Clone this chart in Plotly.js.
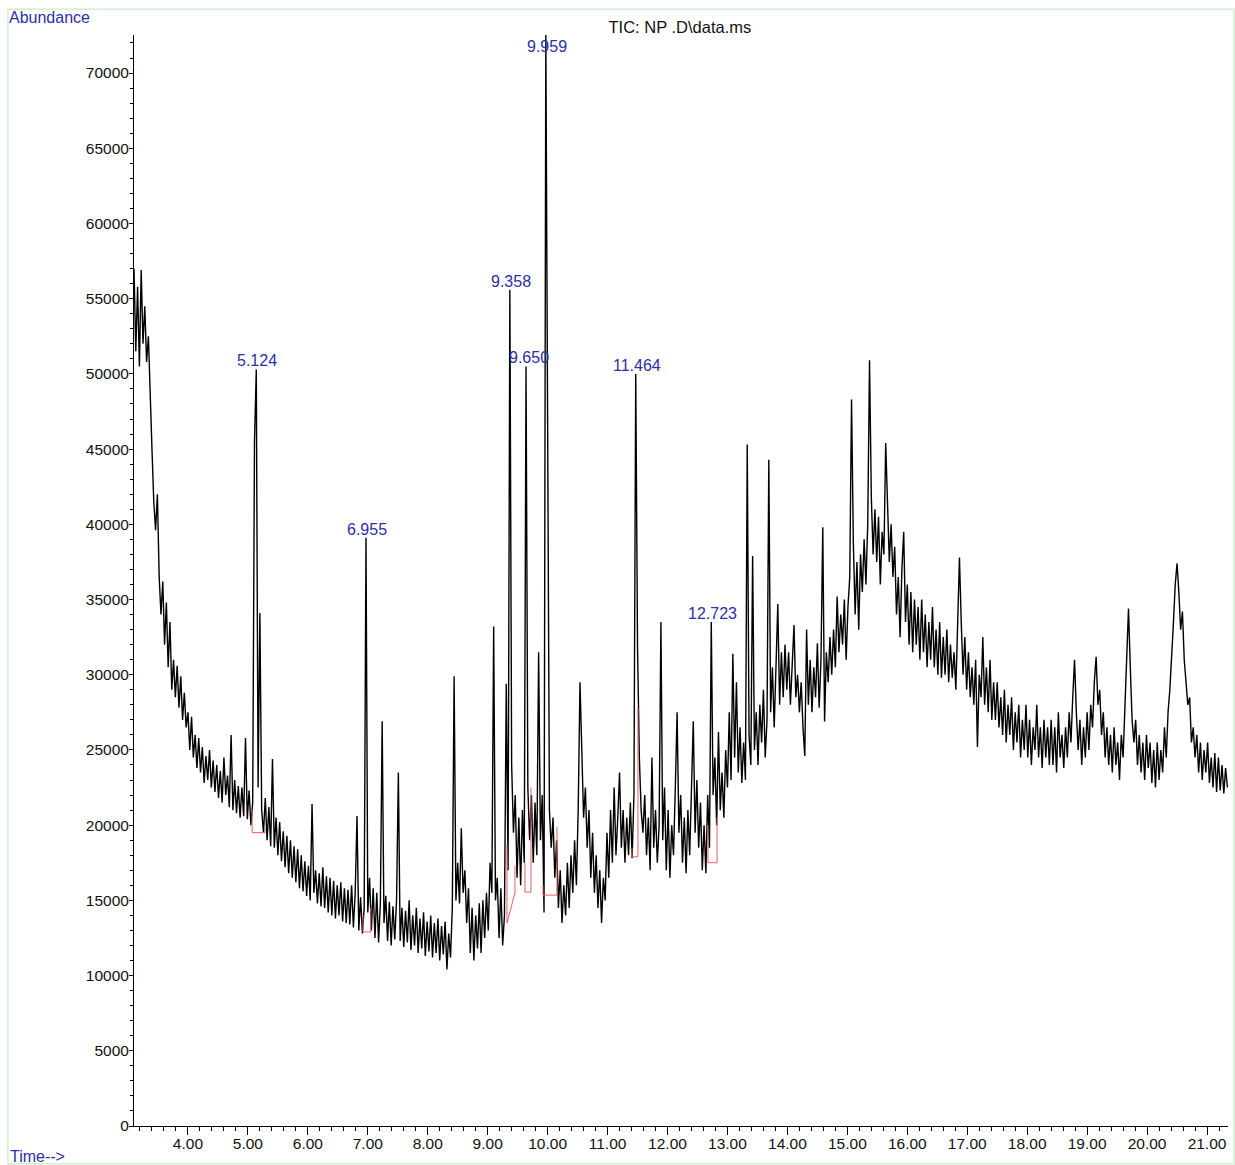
<!DOCTYPE html>
<html>
<head>
<meta charset="utf-8">
<script src="https://cdn.plot.ly/plotly-3.0.1.min.js"></script>
<style>
  html, body { margin: 0; padding: 0; background: #ffffff; }
  #chart { width: 1235px; height: 1165px; }
</style>
</head>
<body>
<div id="chart"></div>
<script>
// ---- TIC data, sampled every 0.03 min starting at 3.10 min ----
const scanStart = 3.10;
const scanStep = 0.03;

// 3.10 - 3.97 min
const tic_0310 = [57000,51500,55800,50500,56900,52000,54500,50800,52500,48000,
                  45000,41500,39600,42000,36500,34000,36200,32000,34800,30500,
                  33500,29000,31000,28500,30600,27800,29900,27000,28800,26500];
// 4.00 - 4.87 min
const tic_0400 = [27500,25000,27200,24500,26000,23800,25800,23500,25200,22800,
                  24600,23000,25000,22500,24300,22200,24000,21800,23600,21500,
                  24500,22000,23300,21200,26000,21000,23000,20800,22600,20500];
// 4.90 - 5.77 min
const tic_0490 = [22500,20600,25800,20400,22300,20000,21500,45500,50300,22500,
                  34100,21000,19500,21800,19000,21200,18600,24400,18500,20500,
                  18000,20200,17600,19600,17200,19300,16800,19000,16500,18600];
// 5.80 - 6.67 min
const tic_0580 = [16200,18400,15800,18000,15600,17600,15300,17300,15000,21400,
                  15500,17000,14800,16800,14600,17200,14500,16600,14200,16500,
                  14000,16300,13800,16000,14000,16200,13600,15800,13500,15700];
// 6.70 - 7.57 min
const tic_0670 = [13400,16000,13200,15500,20600,13000,15200,12800,14500,39100,
                  14200,16500,13000,15800,12500,15500,12200,14800,26900,13500,
                  15300,12300,14900,12000,14600,12400,15000,23500,12300,14500];
// 7.60 - 8.47 min
const tic_0760 = [11900,14300,12200,15000,11700,14000,12000,14500,11500,13800,
                  11800,14200,11300,13600,11600,14000,11200,13500,11500,13800,
                  11000,13300,11400,13600,10400,12800,11200,14500,29900,15000];
// 8.50 - 9.37 min
const tic_0850 = [17500,14800,19800,15500,17000,13500,15800,11500,14500,11000,
                  14000,11800,14800,11500,15000,12500,15500,13000,17500,15500,
                  33200,15000,16500,12500,15800,12000,14000,29400,17000,55600];
// 9.40 - 10.27 min
const tic_0940 = [24000,19500,22000,16500,20500,16000,21000,17500,50500,22500,
                  19000,22000,17500,21500,18000,31500,19000,22000,14200,72600,
                  43000,21000,18500,20500,16500,19000,14500,17000,13500,16000];
// 10.30 - 11.17 min
const tic_1030 = [14000,17500,14500,18000,15500,19000,16000,21000,29500,24000,
                  20500,22500,18500,21000,16500,19500,15500,18000,14500,17000,
                  13500,16500,15000,19500,16500,21000,17500,22500,18000,20500];
// 11.20 - 12.07 min
const tic_1120 = [23500,18500,21000,17500,20500,18000,21500,17800,22000,50000,
                  31800,24500,21000,19500,22000,18000,20500,17000,24500,18500,
                  21000,17500,20000,33500,19000,22500,17000,21000,16500,20000];
// 12.10 - 12.97 min
const tic_1210 = [18000,22500,27500,19500,22000,17500,20500,16800,21000,18000,
                  22500,26900,19500,23000,18500,21500,17000,20000,16800,22000,
                  18500,33500,22000,24500,20000,26200,21000,23500,20500,25000];
// 13.00 - 13.87 min
const tic_1300 = [22500,27500,23000,31400,24500,29500,23500,26500,22800,25500,
                  23000,45300,26000,24000,37900,25000,27500,24000,28000,25500,
                  29000,24500,27000,44300,27500,30500,26500,31000,34700,28000];
// 13.90 - 14.77 min
const tic_1390 = [31500,28500,32000,29000,31500,28000,30500,33300,28500,30000,
                  27500,29500,26500,24600,33000,28000,31000,27500,30500,28500,
                  32100,27800,31000,39800,26900,31500,29500,32500,30000,33000];
// 14.80 - 15.67 min
const tic_1480 = [30500,35200,31500,34000,32000,35000,31000,34500,36500,48300,
                  38800,34000,37500,33000,38000,35500,39000,36000,40000,50900,
                  41800,38000,41000,37500,40500,36000,39500,38000,45400,41400];
// 15.70 - 16.57 min
const tic_1570 = [37500,40000,36500,38500,34000,36500,32500,37000,39500,33500,
                  36000,32000,35500,31500,35000,32000,34500,31000,35000,31500,
                  34000,30500,33500,31000,34500,30500,33000,30000,33500,29800];
// 16.60 - 17.47 min
const tic_1660 = [32500,30000,33000,29500,32000,29800,31500,29000,33000,37800,
                  33500,30000,32500,29000,31500,28500,30500,28000,31000,25200,
                  30000,28500,32500,28000,30500,27500,31000,27000,29500,27000];
// 17.50 - 18.37 min
const tic_1750 = [29500,26500,28500,26000,29000,25500,28000,26000,28500,25000,
                  27500,25500,28000,24500,27000,25000,28000,24500,27000,24000,
                  26500,25000,28000,24500,26500,23800,27000,24500,26500,24000];
// 18.40 - 19.27 min
const tic_1840 = [27000,24000,26500,23500,27500,24500,26000,23800,26500,24500,
                  27500,25500,28500,31000,27500,25000,27000,24000,26500,24500,
                  27500,25000,28000,26500,29500,31200,28000,29000,26000,27500];
// 19.30 - 20.17 min
const tic_1930 = [24500,26500,24000,26000,23500,26500,24000,25500,23000,26000,
                  24500,27500,31000,34400,30500,27000,25500,27000,24000,26000,
                  23500,25500,23000,26000,23800,25500,22800,25000,22500,25500];
// 20.20 - 21.34 min
const tic_2020 = [23000,25000,23500,26500,24500,27500,29000,31000,33500,36000,
                  37400,35500,33000,34200,31000,29500,28000,28500,25500,26500,
                  24500,26000,23500,25500,23000,25000,23500,25500,22800,24500,
                  22500,24800,22200,24500,22300,24000,22100,23800,22500];

// ---- labelled peaks (retention time, apex abundance) ----
const peakRT    = [5.124, 6.955, 9.358, 9.650, 9.959, 11.464, 12.723];
const peakApex  = [50300, 39100, 55600, 50500, 72600, 50000, 33500];

// ---- integration baselines (red) ----
const baseStart    = [5.070, 6.920, 9.322, 9.622, 9.923, 11.407, 12.675];
const baseEnd      = [5.285, 7.050, 9.455, 9.722, 10.156, 11.507, 12.826];
const baseLevelA   = [19500, 12900, 13500, 15550, 15350, 17900, 17500];
const baseLevelB   = [19500, 12900, 15500, 15550, 15350, 17900, 17500];
const startSignal  = [21000, 14000, 18700, 17500, 16000, 18500, 20000];
const endSignal    = [19800, 14500, 17300, 22500, 19900, 27800, 20500];

// ---- axes ----
const xRange = [3.10, 21.35];
const yRange = [0, 72530];

const tic = [].concat(tic_0310, tic_0400, tic_0490, tic_0580, tic_0670, tic_0760,
  tic_0850, tic_0940, tic_1030, tic_1120, tic_1210, tic_1300, tic_1390, tic_1480,
  tic_1570, tic_1660, tic_1750, tic_1840, tic_1930, tic_2020);

const bx = [], by = [];
for (let i = 0; i < baseStart.length; i++) {
  bx.push(baseStart[i], baseStart[i], baseEnd[i], baseEnd[i], null);
  by.push(startSignal[i], baseLevelA[i], baseLevelB[i], endSignal[i], null);
}

const ticTrace = {
  type: 'scatter', mode: 'lines',
  x0: scanStart, dx: scanStep, y: tic,
  line: { color: '#000000', width: 1.4 },
  hoverinfo: 'skip'
};
const baseTrace = {
  type: 'scatter', mode: 'lines',
  x: bx, y: by, connectgaps: false,
  line: { color: '#e06060', width: 1 },
  hoverinfo: 'skip'
};

const blue = '#2e2ea6';
const font = 'Liberation Sans, Arial, Helvetica, sans-serif';

const annotations = peakRT.map((rt, i) => {
  const clipped = peakApex[i] >= yRange[1];
  return {
    x: rt, y: clipped ? yRange[1] : peakApex[i],
    xref: 'x', yref: 'y',
    text: rt.toFixed(3),
    showarrow: false,
    xanchor: 'center', yanchor: clipped ? 'top' : 'bottom',
    xshift: 2, yshift: clipped ? -1 : -2,
    font: { family: font, size: 16, color: blue }
  };
});
annotations.push({
  xref: 'paper', yref: 'paper', x: -0.1162, y: 1.0156,
  xanchor: 'left', yanchor: 'middle', showarrow: false,
  text: 'Abundance', font: { family: font, size: 16, color: blue }
});
annotations.push({
  xref: 'paper', yref: 'paper', x: -0.1152, y: -0.0284,
  xanchor: 'left', yanchor: 'middle', showarrow: false,
  text: 'Time-->', font: { family: font, size: 16, color: blue }
});

const layout = {
  width: 1235, height: 1165,
  margin: { l: 134, r: 7, t: 35, b: 39, pad: 0 },
  paper_bgcolor: '#ffffff', plot_bgcolor: '#ffffff',
  showlegend: false,
  title: {
    text: 'TIC: NP .D\\data.ms',
    xref: 'paper', x: 0.499, xanchor: 'center',
    yref: 'container', y: 1 - 27 / 1165, yanchor: 'middle',
    font: { family: font, size: 16.5, color: '#111111' }
  },
  xaxis: {
    range: xRange, showgrid: false, zeroline: false,
    showline: true, linecolor: '#000000', linewidth: 1,
    tick0: 4, dtick: 1, tickformat: '.2f',
    ticks: 'outside', ticklen: 8, tickcolor: '#000000', tickwidth: 1,
    ticklabelstandoff: -5,
    minor: { dtick: 0.2, tick0: 4, ticks: 'outside', ticklen: 4, tickcolor: '#000000', showgrid: false },
    tickfont: { family: font, size: 15.5, color: '#111111' }
  },
  yaxis: {
    range: yRange, showgrid: false, zeroline: false,
    showline: true, linecolor: '#000000', linewidth: 1,
    tick0: 0, dtick: 5000, tickformat: 'd',
    ticks: 'outside', ticklen: 4, tickcolor: '#000000', tickwidth: 1,
    ticklabelstandoff: -3,
    minor: { dtick: 1000, ticks: 'outside', ticklen: 3, tickcolor: '#000000', showgrid: false },
    tickfont: { family: font, size: 15.5, color: '#111111' }
  },
  shapes: [{
    type: 'rect', xref: 'paper', yref: 'paper',
    x0: -0.1152, x1: 1.0055, y0: -0.0348, y1: 1.0238,
    line: { color: '#c6ecc6', width: 1.2 }, fillcolor: 'rgba(0,0,0,0)', layer: 'below'
  }],
  annotations: annotations
};

Plotly.newPlot('chart', [ticTrace, baseTrace], layout, { displayModeBar: false, staticPlot: true });
</script>
</body>
</html>
